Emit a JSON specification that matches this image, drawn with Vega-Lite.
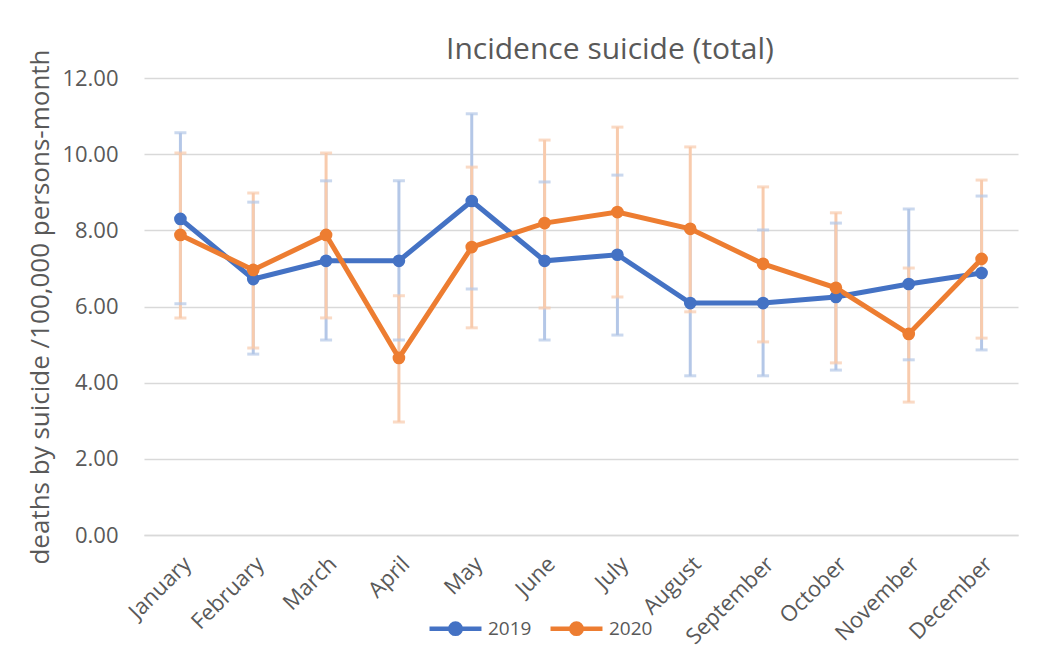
{
  "$schema": "https://vega.github.io/schema/vega-lite/v6.json",
  "width": 874,
  "height": 457,
  "autosize": {"type": "none"},
  "padding": {"left": 144, "top": 78, "right": 33, "bottom": 125},
  "background": "white",
  "config": {
    "font": "Open Sans",
    "view": {"stroke": null},
    "axis": {"labelColor": "#595959", "titleColor": "#595959", "labelFont": "Open Sans", "titleFont": "Open Sans"}
  },
  "title": {
    "text": "Incidence suicide (total)",
    "fontSize": 30,
    "fontWeight": "normal",
    "color": "#595959",
    "anchor": "middle",
    "dx": 29,
    "dy": 28,
    "offset": 12
  },
  "data": {
    "values": [
      {"month": "January", "year": "2019", "value": 8.30, "lo": 6.07, "hi": 10.56},
      {"month": "February", "year": "2019", "value": 6.72, "lo": 4.75, "hi": 8.74},
      {"month": "March", "year": "2019", "value": 7.20, "lo": 5.12, "hi": 9.30},
      {"month": "April", "year": "2019", "value": 7.20, "lo": 5.12, "hi": 9.30},
      {"month": "May", "year": "2019", "value": 8.77, "lo": 6.46, "hi": 11.06},
      {"month": "June", "year": "2019", "value": 7.20, "lo": 5.12, "hi": 9.27},
      {"month": "July", "year": "2019", "value": 7.36, "lo": 5.25, "hi": 9.45},
      {"month": "August", "year": "2019", "value": 6.09, "lo": 4.18, "hi": 8.01},
      {"month": "September", "year": "2019", "value": 6.09, "lo": 4.18, "hi": 8.01},
      {"month": "October", "year": "2019", "value": 6.25, "lo": 4.33, "hi": 8.19},
      {"month": "November", "year": "2019", "value": 6.59, "lo": 4.60, "hi": 8.56},
      {"month": "December", "year": "2019", "value": 6.88, "lo": 4.86, "hi": 8.90},
      {"month": "January", "year": "2020", "value": 7.88, "lo": 5.70, "hi": 10.03},
      {"month": "February", "year": "2020", "value": 6.96, "lo": 4.91, "hi": 8.98},
      {"month": "March", "year": "2020", "value": 7.88, "lo": 5.70, "hi": 10.03},
      {"month": "April", "year": "2020", "value": 4.65, "lo": 2.97, "hi": 6.28},
      {"month": "May", "year": "2020", "value": 7.56, "lo": 5.44, "hi": 9.66},
      {"month": "June", "year": "2020", "value": 8.19, "lo": 5.96, "hi": 10.37},
      {"month": "July", "year": "2020", "value": 8.48, "lo": 6.25, "hi": 10.71},
      {"month": "August", "year": "2020", "value": 8.04, "lo": 5.86, "hi": 10.19},
      {"month": "September", "year": "2020", "value": 7.12, "lo": 5.07, "hi": 9.14},
      {"month": "October", "year": "2020", "value": 6.49, "lo": 4.52, "hi": 8.46},
      {"month": "November", "year": "2020", "value": 5.28, "lo": 3.49, "hi": 7.01},
      {"month": "December", "year": "2020", "value": 7.25, "lo": 5.17, "hi": 9.32}
    ]
  },
  "encoding": {
    "x": {
      "field": "month",
      "type": "nominal",
      "sort": ["January","February","March","April","May","June","July","August","September","October","November","December"],
      "title": null,
      "axis": {
        "labelAngle": -45,
        "labelFontSize": 22,
        "labelPadding": 18,
        "ticks": false,
        "domainColor": "#D9D9D9",
        "domainWidth": 1.5,
        "grid": false
      }
    }
  },
  "layer": [
    {
      "mark": {"type": "rule", "strokeWidth": 3},
      "encoding": {
        "y": {"field": "lo", "type": "quantitative"},
        "y2": {"field": "hi"},
        "color": {"condition": {"test": "datum.year == '2019'", "value": "#B4C7E7"}, "value": "#F8CBAD"}
      }
    },
    {
      "mark": {"type": "tick", "size": 12, "thickness": 3},
      "encoding": {
        "y": {"field": "lo", "type": "quantitative"},
        "color": {"condition": {"test": "datum.year == '2019'", "value": "#B4C7E7"}, "value": "#F8CBAD"}
      }
    },
    {
      "mark": {"type": "tick", "size": 12, "thickness": 3},
      "encoding": {
        "y": {"field": "hi", "type": "quantitative"},
        "color": {"condition": {"test": "datum.year == '2019'", "value": "#B4C7E7"}, "value": "#F8CBAD"}
      }
    },
    {
      "mark": {"type": "line", "strokeWidth": 5},
      "encoding": {
        "y": {
          "field": "value",
          "type": "quantitative",
          "scale": {"domain": [0, 12]},
          "title": "deaths by suicide /100,000 persons-month",
          "axis": {
            "values": [0, 2, 4, 6, 8, 10, 12],
            "format": ".2f",
            "labelFontSize": 22,
            "titleFontSize": 26,
            "titleFontWeight": "normal",
            "titlePadding": 8,
            "ticks": false,
            "domain": false,
            "labelPadding": 26,
            "gridColor": "#D9D9D9",
            "gridWidth": 1.5
          }
        },
        "color": {
          "field": "year",
          "type": "nominal",
          "scale": {"domain": ["2019", "2020"], "range": ["#4472C4", "#ED7D31"]},
          "legend": {
            "title": null,
            "orient": "none",
            "direction": "horizontal",
            "legendX": 283,
            "legendY": 522,
            "labelFontSize": 19,
            "labelColor": "#595959",
            "labelFont": "Open Sans",
            "symbolType": "M-1,0H1M0.2,0A0.2,0.2 0 1,1 -0.2,0A0.2,0.2 0 1,1 0.2,0M0.08,0A0.08,0.08 0 1,1 -0.08,0A0.08,0.08 0 1,1 0.08,0",
            "symbolSize": 2700,
            "symbolStrokeWidth": 4.5,
            "columnPadding": 9,
            "labelOffset": 4,
            "encode": {
              "symbols": {"update": {"stroke": {"scale": "color", "field": "value"}, "strokeWidth": {"value": 4.5}}}
            }
          }
        }
      }
    },
    {
      "mark": {"type": "point", "filled": true, "size": 160, "opacity": 1},
      "encoding": {
        "y": {"field": "value", "type": "quantitative"},
        "color": {"field": "year", "type": "nominal"}
      }
    }
  ]
}
